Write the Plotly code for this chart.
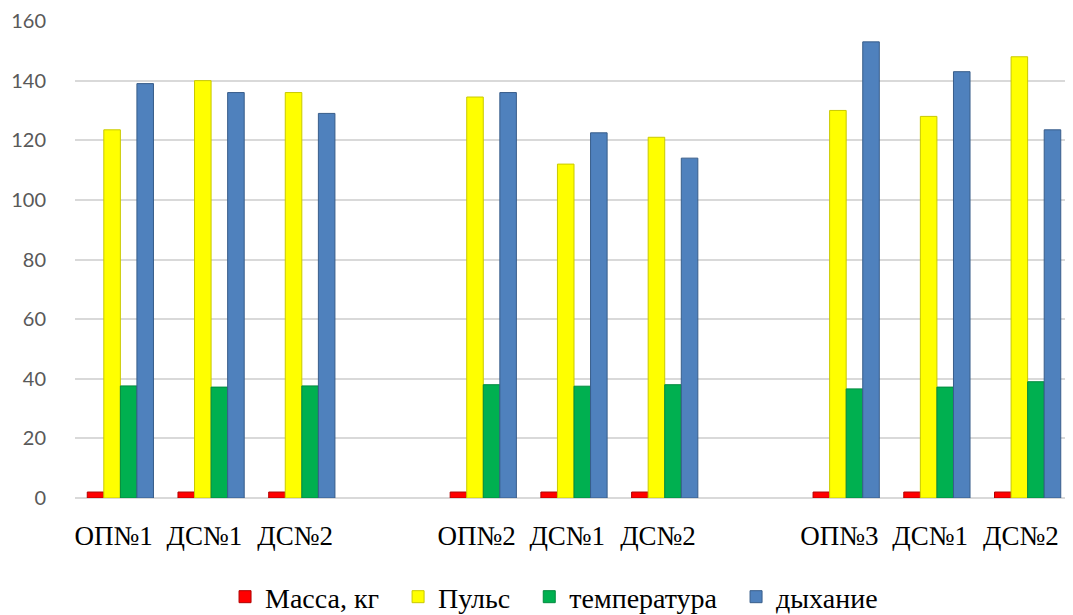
import plotly.graph_objects as go

categories = ["ОП№1", "ДС№1", "ДС№2", "", "ОП№2", "ДС№1", "ДС№2", "", "ОП№3", "ДС№1", "ДС№2"]
massa =       [2, 2, 2, None, 2, 2, 2, None, 2, 2, 2]
puls =        [123.5, 140, 136, None, 134.5, 112, 121, None, 130, 128, 148]
temperatura = [37.6, 37.2, 37.6, None, 38, 37.5, 38, None, 36.6, 37.2, 39]
dyhanie =     [139, 136, 129, None, 136, 122.5, 114, None, 153, 143, 123.5]

NB = "\u00a0"
series = [
    ("Масса, кг" + NB * 2, massa, "#ff0000", "#b00000"),
    ("Пульс" + NB * 2, puls, "#ffff00", "#c9c900"),
    ("температура" + NB * 2, temperatura, "#00b050", "#008a3e"),
    ("дыхание", dyhanie, "#4f81bd", "#385d8a"),
]

x = list(range(len(categories)))
ticktext = [c + NB * 2 if c else c for c in categories]

fig = go.Figure()
for name, vals, col, edge in series:
    fig.add_trace(go.Bar(
        x=x, y=vals, name=name,
        marker=dict(color=col, line=dict(color=edge, width=1)),
    ))

fig.update_layout(
    width=1065, height=607,
    barmode="group", bargap=0.27, bargroupgap=0,
    plot_bgcolor="white", paper_bgcolor="white",
    margin=dict(l=67, r=0, t=13, b=117, autoexpand=False),
    showlegend=True,
    legend=dict(orientation="h", x=0.48, xanchor="center", y=-0.2075, yanchor="middle",
                font=dict(family="Liberation Serif", size=28, color="black"),
                itemwidth=30, traceorder="normal", tracegroupgap=0),
    xaxis=dict(
        tickmode="array", tickvals=x, ticktext=ticktext, tickangle=0,
        range=[-0.5, len(categories) - 0.5],
        showgrid=False, zeroline=False, showline=False, ticks="",
        tickfont=dict(family="Liberation Serif", size=27, color="black"),
        ticklabelstandoff=19,
    ),
    yaxis=dict(
        range=[0, 160], tick0=0, dtick=20,
        showgrid=True, gridcolor="#d9d9d9", gridwidth=2,
        zeroline=True, zerolinecolor="#d9d9d9", zerolinewidth=2,
        showline=False, ticks="",
        tickfont=dict(family="Lato", size=20, color="#595959"),
        ticklabelstandoff=28,
    ),
)

fig.write_html("out.html")
